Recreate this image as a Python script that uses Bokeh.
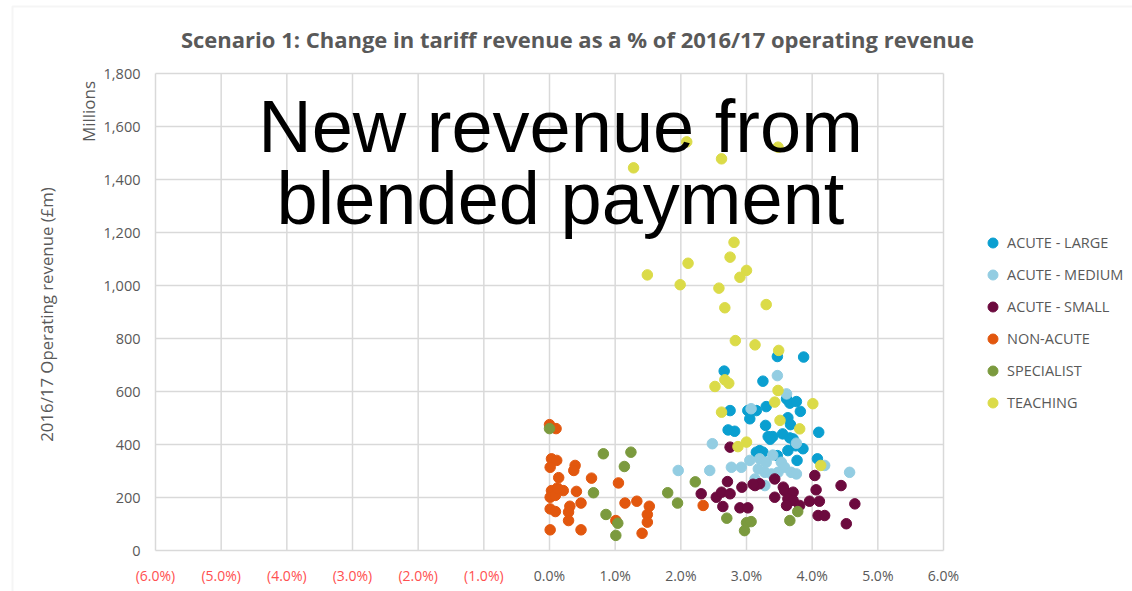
import math
from bokeh.plotting import figure
from bokeh.core.properties import value
from bokeh.models import (ColumnDataSource, Legend, LegendItem, LabelSet, Label, Range1d,
                          BoxAnnotation)
from bokeh.embed import file_html
from bokeh.resources import INLINE

TITLE = "Scenario 1: Change in tariff revenue as a % of 2016/17 operating revenue"
OVERLAY = "New revenue from\nblended payment"
Y_LABEL = "2016/17 Operating revenue (£m)"
Y_UNIT = "Millions"

x_ticks = [-6, -5, -4, -3, -2, -1, 0, 1, 2, 3, 4, 5, 6]
x_tick_labels = ["(6.0%)", "(5.0%)", "(4.0%)", "(3.0%)", "(2.0%)", "(1.0%)",
                 "0.0%", "1.0%", "2.0%", "3.0%", "4.0%", "5.0%", "6.0%"]
y_ticks = [0, 200, 400, 600, 800, 1000, 1200, 1400, 1600, 1800]
y_tick_labels = ["0", "200", "400", "600", "800", "1,000", "1,200", "1,400", "1,600", "1,800"]

series_names = ["ACUTE - LARGE", "ACUTE - MEDIUM", "ACUTE - SMALL",
                "NON-ACUTE", "SPECIALIST", "TEACHING"]
series_colors = ["#0a9fd0", "#93cde2", "#6c0a3e", "#e2570e", "#7b9a3e", "#dbdb48"]

large_x = [3.47, 3.87, 2.66, 3.25, 2.75, 3.02, 3.05, 3.15, 3.30, 3.61, 3.66, 3.76, 3.82, 3.63,
           3.67, 3.29, 2.72, 2.82, 3.33, 3.40, 4.10, 3.66, 3.71, 3.63, 3.86, 3.20, 3.15, 3.25,
           3.47, 3.77, 4.08, 3.36, 3.55, 3.75]
large_y = [732, 730, 677, 639, 528, 528, 497, 528, 543, 572, 556, 562, 525, 501,
           475, 472, 455, 450, 430, 430, 446, 425, 421, 377, 384, 377, 371, 371,
           358, 340, 346, 420, 440, 395]

medium_x = [3.47, 3.07, 3.61, 2.48, 3.76, 1.96, 2.44, 2.77, 2.92, 3.05, 3.20, 3.30, 3.18,
            3.28, 3.38, 3.53, 3.58, 3.68, 3.76, 3.48, 4.19, 4.57, 3.13, 3.28, 3.40]
medium_y = [660, 535, 591, 403, 405, 302, 302, 314, 314, 340, 346, 333, 308,
            295, 289, 333, 314, 295, 289, 295, 321, 295, 270, 245, 360]

small_x = [2.75, 2.71, 2.31, 2.54, 2.62, 2.75, 2.64, 2.90, 3.02, 2.93, 3.13, 3.20, 3.43,
           3.56, 3.58, 3.71, 3.43, 3.63, 3.71, 3.61, 3.81, 3.96, 4.11, 4.04, 4.06, 4.44,
           4.65, 4.09, 4.19, 4.52, 3.10]
small_y = [390, 260, 214, 201, 220, 214, 166, 161, 161, 239, 245, 252, 270,
           239, 226, 220, 201, 195, 189, 170, 170, 186, 186, 283, 229, 245,
           176, 132, 132, 101, 250]

nonacute_x = [0.00, 0.10, 0.03, 0.11, 0.01, 0.39, 0.37, 0.14, 0.64, 1.05, 0.03, 0.21, 0.41,
              0.01, 0.09, 0.12, 0.48, 0.31, 0.01, 0.09, 0.29, 0.29, 1.15, 1.33, 1.52, 1.49,
              1.49, 1.01, 0.01, 0.48, 1.41, 2.34]
nonacute_y = [475, 460, 346, 340, 314, 321, 302, 275, 273, 255, 226, 226, 223,
              201, 208, 236, 179, 167, 157, 147, 145, 113, 179, 186, 167, 136,
              107, 113, 78, 78, 65, 170]

specialist_x = [0.00, 0.82, 1.24, 1.14, 0.67, 1.80, 0.86, 1.04, 1.01, 1.95, 2.22, 2.70,
                3.00, 3.07, 2.97, 3.78, 3.66]
specialist_y = [460, 365, 371, 317, 218, 218, 136, 103, 57, 179, 259, 122,
                105, 109, 75, 147, 113]

teaching_x = [1.28, 2.09, 2.62, 3.48, 2.81, 2.75, 2.11, 1.49, 3.00, 2.90, 1.99, 2.58, 2.67,
              3.30, 2.83, 3.13, 3.49, 2.67, 2.73, 2.52, 3.48, 3.43, 4.01, 2.62, 3.51, 3.81,
              3.00, 2.87, 4.13]
teaching_y = [1444, 1542, 1478, 1522, 1163, 1107, 1084, 1040, 1057, 1031, 1003, 990, 916,
              928, 792, 776, 755, 644, 631, 619, 604, 560, 554, 522, 491, 459,
              409, 392, 321]

series_x = [large_x, medium_x, small_x, nonacute_x, specialist_x, teaching_x]
series_y = [large_y, medium_y, small_y, nonacute_y, specialist_y, teaching_y]

GRAY = "#595959"
RED = "#ff5050"
GRID = "#d9d9d9"
FONT = "Open Sans"

# ---- layout geometry (pixels inside the figure) ----
FIG_W, FIG_H = 1132, 591
PL, PR, PT, PB = 155, 943, 73, 550          # plot-area edges
X_MIN, X_MAX = x_ticks[0], x_ticks[-1]
Y_MIN, Y_MAX = y_ticks[0], y_ticks[-1]
sx = (X_MAX - X_MIN) / (PR - PL)            # data units per pixel
sy = (Y_MAX - Y_MIN) / (PB - PT)


def dx(px):   # figure pixel -> x data
    return X_MIN + (px - PL) * sx


def dy(py):   # figure pixel -> y data
    return Y_MIN + (PB - py) * sy


p = figure(width=FIG_W, height=FIG_H,
           x_range=Range1d(dx(0), dx(FIG_W)), y_range=Range1d(dy(FIG_H), dy(0)),
           output_backend="svg", toolbar_location=None,
           min_border=0, min_border_left=0, min_border_right=0,
           min_border_top=0, min_border_bottom=0)
p.outline_line_color = None
p.background_fill_color = "white"
p.border_fill_color = "white"
p.axis.visible = False
p.grid.visible = False

# chart-area border (left and top edges)
p.add_layout(BoxAnnotation(left=dx(12), top=dy(6), right=dx(FIG_W + 50), bottom=dy(FIG_H + 50),
                           fill_alpha=0, line_color="#dedede", line_width=2))

# gridlines of the plot area
p.segment(x0=x_ticks, y0=[Y_MIN] * len(x_ticks), x1=x_ticks, y1=[Y_MAX] * len(x_ticks),
          line_color=GRID, line_width=1.5)
p.segment(x0=[X_MIN] * len(y_ticks), y0=y_ticks, x1=[X_MAX] * len(y_ticks), y1=y_ticks,
          line_color=GRID, line_width=1.5)

# points
items = []
for name, color, xs, ys in zip(series_names, series_colors, series_x, series_y):
    r = p.scatter(xs, ys, size=10.5, marker="circle", fill_color=color, line_color=color)
    items.append(LegendItem(label=name, renderers=[r]))

legend = Legend(items=items, location=(980, 176), border_line_color=None,
                background_fill_alpha=0, padding=0, margin=0, spacing=7,
                glyph_width=25, glyph_height=25, label_height=25, label_standoff=2,
                label_text_font=FONT, label_text_font_size="14.5px", label_text_color=GRAY)
p.add_layout(legend)

# x tick labels (negatives in red)
tick_colors = [RED if t < 0 else GRAY for t in x_ticks]
xsrc = ColumnDataSource(dict(x=x_ticks, y=[Y_MIN] * len(x_ticks), text=x_tick_labels,
                             color=tick_colors))
p.add_layout(LabelSet(x="x", y="y", text="text", text_color="color", source=xsrc,
                      y_offset=-25, text_align="center", text_baseline="middle",
                      text_font=value(FONT), text_font_size=value("14px")))

# y tick labels
ysrc = ColumnDataSource(dict(x=[X_MIN] * len(y_ticks), y=y_ticks, text=y_tick_labels))
p.add_layout(LabelSet(x="x", y="y", text="text", source=ysrc, x_offset=-15,
                      text_align="right", text_baseline="middle", text_color=value(GRAY),
                      text_font=value(FONT), text_font_size=value("14.5px")))

# axis title and unit
p.add_layout(Label(x=dx(46), y=dy(314), text=Y_LABEL, angle=math.pi / 2,
                   text_align="center", text_baseline="middle", text_font=FONT,
                   text_font_size="16.8px", text_color=GRAY))
p.add_layout(Label(x=dx(88), y=dy(111), text=Y_UNIT, angle=math.pi / 2, text_align="center",
                   text_baseline="middle", text_font=FONT, text_font_size="17px",
                   text_color=GRAY))

# chart title
p.add_layout(Label(x=dx(577), y=dy(38), text=TITLE, text_align="center",
                   text_baseline="middle", text_font=FONT, text_font_size="22px",
                   text_font_style="bold", text_color=GRAY))

# overlay caption
p.add_layout(Label(x=dx(560), y=dy(162), text=OVERLAY, text_align="center",
                   text_baseline="middle", text_font="Liberation Sans",
                   text_font_size="74px", text_color="black", text_line_height=0.87))

open("out.html", "w").write(file_html(p, INLINE))
